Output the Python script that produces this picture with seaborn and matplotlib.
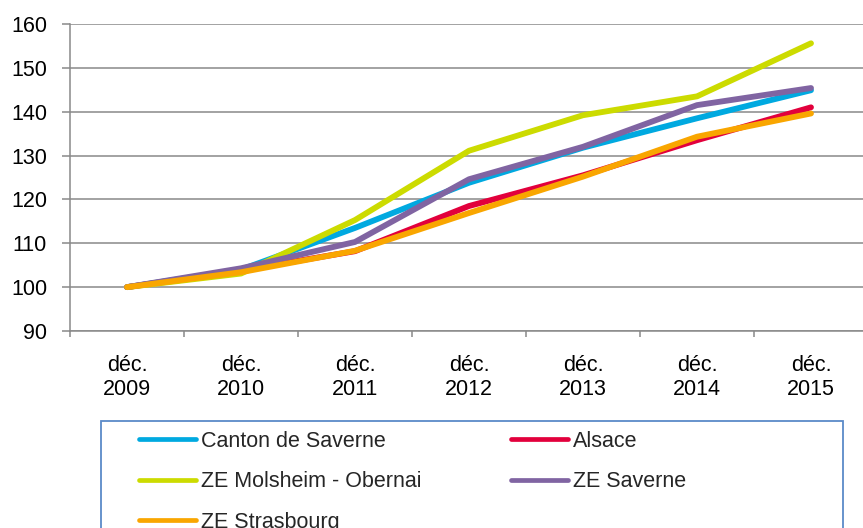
import matplotlib
matplotlib.use('Agg')
import matplotlib.pyplot as plt
from matplotlib.lines import Line2D
from matplotlib.patches import Rectangle
from matplotlib import font_manager
import pandas as pd
import seaborn as sns

# Data (index, base 100 in déc. 2009)
periods = ['déc.\n2009', 'déc.\n2010', 'déc.\n2011', 'déc.\n2012',
           'déc.\n2013', 'déc.\n2014', 'déc.\n2015']
canton_saverne = [100, 104.0, 113.5, 123.8, 131.8, 138.5, 144.9]
alsace = [100, 103.8, 108.2, 118.5, 125.5, 133.5, 141.0]
ze_molsheim_obernai = [100, 103.1, 115.3, 131.1, 139.2, 143.5, 155.6]
ze_saverne = [100, 104.3, 110.3, 124.6, 132.0, 141.5, 145.4]
ze_strasbourg = [100, 103.4, 108.3, 116.9, 125.2, 134.3, 139.6]

series_names = ['Canton de Saverne', 'Alsace', 'ZE Molsheim - Obernai',
                'ZE Saverne', 'ZE Strasbourg']
series_values = [canton_saverne, alsace, ze_molsheim_obernai, ze_saverne, ze_strasbourg]
colors = ['#00A9E0', '#E2003C', '#CCDB00', '#8064A2', '#F9A600']


def pick_font(*names):
    for n in names:
        try:
            font_manager.findfont(font_manager.FontProperties(family=n),
                                  fallback_to_default=False)
            return n
        except ValueError:
            pass
    return 'DejaVu Sans'


sns.set_style('white')
tick_font = pick_font('Liberation Sans', 'Open Sans')
plt.rcParams['font.family'] = [tick_font, 'DejaVu Sans']

rows = []
for name, vals in zip(series_names, series_values):
    for i, v in enumerate(vals):
        rows.append({'x': i, 'value': v, 'serie': name})
df = pd.DataFrame(rows)

W, H = 863, 528
fig = plt.figure(figsize=(W / 100, H / 100), dpi=100)
ax = fig.add_axes([70 / W, (H - 331) / H, 798 / W, 307 / H])

sns.lineplot(data=df, x='x', y='value', hue='serie', hue_order=series_names,
             palette=colors, linewidth=4.2, sort=False, legend=False, ax=ax,
             solid_capstyle='round', solid_joinstyle='round')

grey = '#898989'
ax.set_xlim(-0.5, 6.5)
ax.set_ylim(90, 160)
ax.set_yticks(range(90, 161, 10))
ax.set_xticks(range(len(periods)))
ax.set_xticklabels(periods, linespacing=1.15)
ax.set_xticks([i - 0.5 for i in range(len(periods) + 1)], minor=True)
ax.set_xlabel('')
ax.set_ylabel('')
ax.grid(axis='y', color=grey, linewidth=1.1)
ax.grid(axis='x', visible=False)
ax.set_axisbelow(True)
for s in ['top', 'right']:
    ax.spines[s].set_visible(False)
for s in ['left', 'bottom']:
    ax.spines[s].set_color(grey)
    ax.spines[s].set_linewidth(1.1)

ax.tick_params(axis='y', which='major', left=True, length=6, width=1.1, color=grey,
               pad=10.5, labelsize=15.5, labelcolor='black')
ax.tick_params(axis='x', which='major', bottom=True, length=0, pad=17.5,
               labelsize=15.5, labelcolor='black')
ax.tick_params(axis='x', which='minor', bottom=True, length=4.5, width=1.1, color=grey)

# Legend: boxed area below the chart, two columns
handles = {n: Line2D([], [], color=c, linewidth=3.4, solid_capstyle='round')
           for n, c in zip(series_names, colors)}
leg_kw = dict(loc='upper left', frameon=False, borderpad=0, borderaxespad=0,
              handlelength=2.65, handletextpad=0.25, labelspacing=0.9,
              prop=dict(size=15.5))
col1 = ['Canton de Saverne', 'ZE Molsheim - Obernai', 'ZE Strasbourg']
col2 = ['Alsace', 'ZE Saverne']
fig.legend([handles[n] for n in col1], col1,
           bbox_to_anchor=(139 / W, 1 - 431 / H), **leg_kw)
fig.legend([handles[n] for n in col2], col2,
           bbox_to_anchor=(511 / W, 1 - 431 / H), **leg_kw)
fig.add_artist(Rectangle((101 / W, -0.1), (843 - 101) / W, (H - 421) / H + 0.1,
                         transform=fig.transFigure, fill=False,
                         edgecolor='#5B8AC8', linewidth=1.3))

fig.savefig('out.png', dpi=100)
